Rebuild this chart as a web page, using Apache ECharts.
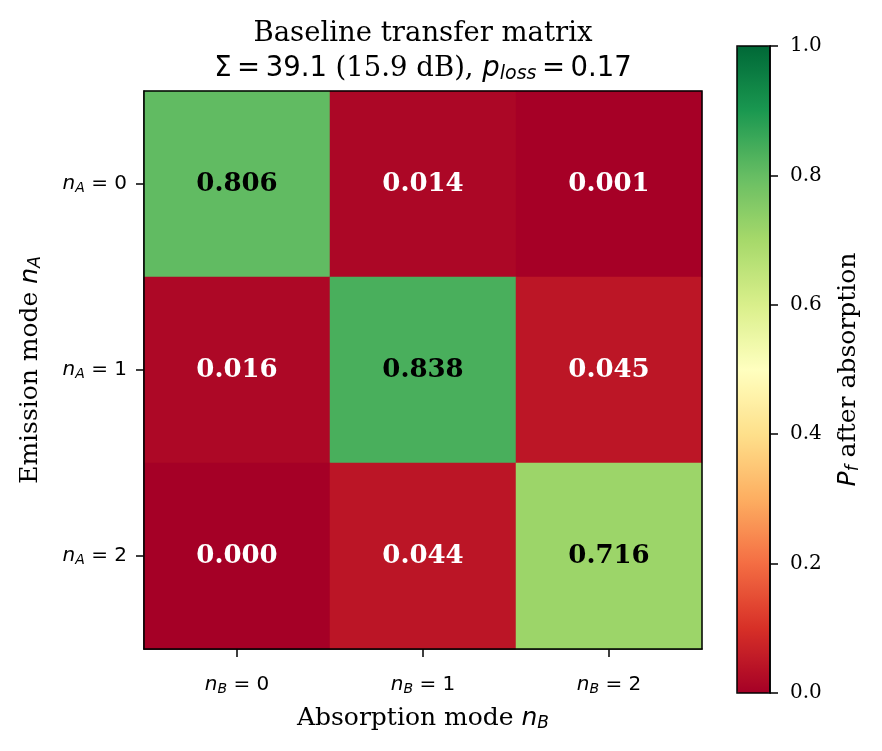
<!DOCTYPE html>
<html>
<head>
<meta charset="utf-8">
<script src="https://cdn.jsdelivr.net/npm/echarts@6/dist/echarts.min.js"></script>
<style>
  html, body { margin: 0; padding: 0; background: #fff; }
  #main { width: 882px; height: 751px; }
</style>
</head>
<body>
<div id="main"></div>
<script>
// ---- data ----
var absorptionModes = ['0', '1', '2'];   // n_B, columns
var emissionModes = ['0', '1', '2'];     // n_A, rows
var row0 = [0.806, 0.014, 0.001];
var row1 = [0.016, 0.838, 0.045];
var row2 = [0.000, 0.044, 0.716];

// RdYlGn
var rdylgn = ['#a50026', '#d73027', '#f46d43', '#fdae61', '#fee08b', '#ffffbf',
              '#d9ef8b', '#a6d96a', '#66bd63', '#1a9850', '#006837'];

var serif = 'DejaVu Serif';
var sans = 'DejaVu Sans';
var thin = '\u2009';

var rows = [row0, row1, row2];
var cells = [];
rows.forEach(function (r, i) {
    r.forEach(function (v, j) {
        cells.push({
            value: [j, i, v],
            label: { color: v > 0.5 ? '#000' : '#fff' }
        });
    });
});

var chart = echarts.init(document.getElementById('main'));

// 公共 rich 样式
var tickRich = {
    i: { fontFamily: sans, fontStyle: 'italic', fontSize: 20, color: '#000' },
    s: { fontFamily: sans, fontStyle: 'italic', fontSize: 14, color: '#000', padding: [8, 0, 0, 0] },
    t: { fontFamily: sans, fontSize: 20, color: '#000' }
};
var nameRich = {
    a: { fontFamily: serif, fontSize: 25, color: '#000' },
    i: { fontFamily: sans, fontStyle: 'italic', fontSize: 25, color: '#000' },
    s: { fontFamily: sans, fontStyle: 'italic', fontSize: 17, color: '#000', padding: [10, 0, 0, 0] }
};
function tickStyle() {
    return { show: true, alignWithLabel: true, length: 8, lineStyle: { color: '#000', width: 1.5 } };
}

var plot = { left: 144, top: 91, width: 558, height: 558 };
var cbar = { left: 737, top: 46, width: 33, height: 647 };

option = {
    backgroundColor: '#fff',
    animation: false,
    title: {
        left: 423,
        textAlign: 'center',
        top: 16,
        padding: 0,
        text: '{a|Baseline transfer matrix}\n{m|Σ' + thin + '=' + thin + '39.1 }{a|(15.9 dB), }{i|p}{s|loss}{m|' + thin + '=' + thin + '0.17}',
        textStyle: {
            rich: {
                a: { fontFamily: serif, fontWeight: 'normal', fontSize: 27.5, color: '#000', lineHeight: 35 },
                m: { fontFamily: sans, fontWeight: 'normal', fontSize: 27.5, color: '#000', lineHeight: 35 },
                i: { fontFamily: sans, fontWeight: 'normal', fontStyle: 'italic', fontSize: 27.5, color: '#000', lineHeight: 35 },
                s: { fontFamily: sans, fontWeight: 'normal', fontStyle: 'italic', fontSize: 19, color: '#000', lineHeight: 35, padding: [11, 0, 0, 0] }
            }
        }
    },
    grid: [
        { left: plot.left, top: plot.top, width: plot.width, height: plot.height },
        { left: cbar.left, top: cbar.top, width: cbar.width, height: cbar.height }
    ],
    xAxis: [{
        type: 'category',
        gridIndex: 0,
        data: absorptionModes,
        axisLine: { show: true, lineStyle: { color: '#000', width: 1.5 } },
        axisTick: tickStyle(),
        axisLabel: {
            margin: 25,
            formatter: function (v) { return '{i|n}{s|B}{t| = ' + v + '}'; },
            rich: tickRich
        },
        splitLine: { show: false },
        name: '{a|Absorption mode }{i|n}{s|B}',
        nameLocation: 'middle',
        nameGap: 56,
        nameTextStyle: { rich: nameRich }
    }, {
        type: 'value',
        gridIndex: 1,
        show: false,
        min: 0,
        max: 1
    }],
    yAxis: [{
        type: 'category',
        gridIndex: 0,
        data: emissionModes,
        inverse: true,
        axisLine: { show: true, lineStyle: { color: '#000', width: 1.5 } },
        axisTick: tickStyle(),
        axisLabel: {
            margin: 17,
            formatter: function (v) { return '{i|n}{s|A}{t| = ' + v + '}'; },
            rich: tickRich
        },
        splitLine: { show: false },
        name: '{a|Emission mode }{i|n}{s|A}',
        nameLocation: 'middle',
        nameRotate: 90,
        nameGap: 100,
        nameTextStyle: { rich: nameRich }
    }, {
        type: 'value',
        gridIndex: 1,
        position: 'right',
        min: 0,
        max: 1,
        interval: 0.2,
        z: 10,
        axisLine: { show: true, onZero: false, lineStyle: { color: '#000', width: 1.5 } },
        axisTick: { show: true, inside: false, length: 8, lineStyle: { color: '#000', width: 1.5 } },
        axisLabel: {
            margin: 20,
            fontFamily: serif,
            fontSize: 20,
            color: '#000',
            formatter: function (v) { return v.toFixed(1); }
        },
        splitLine: { show: false },
        name: '{i|P}{s|f}{a| after absorption}',
        nameLocation: 'middle',
        nameRotate: 90,
        nameGap: 65,
        nameTextStyle: { rich: nameRich }
    }],
    visualMap: {
        type: 'continuous',
        min: 0,
        max: 1,
        calculable: false,
        seriesIndex: 0,
        left: cbar.left,
        top: cbar.top,
        itemWidth: cbar.width,
        itemHeight: cbar.height,
        padding: 0,
        hoverLink: false,
        inRange: { color: rdylgn }
    },
    graphic: [
        {
            type: 'rect', z: 100,
            shape: { x: plot.left, y: plot.top, width: plot.width, height: plot.height },
            style: { fill: 'none', stroke: '#000', lineWidth: 1.5 }
        },
        {
            type: 'rect', z: 100,
            shape: { x: cbar.left, y: cbar.top, width: cbar.width, height: cbar.height },
            style: { fill: 'none', stroke: '#000', lineWidth: 1.5 }
        }
    ],
    series: [{
        type: 'heatmap',
        xAxisIndex: 0,
        yAxisIndex: 0,
        data: cells,
        itemStyle: { borderWidth: 0 },
        label: {
            show: true,
            fontFamily: serif,
            fontWeight: 'bold',
            fontSize: 26,
            formatter: function (p) { return p.value[2].toFixed(3); }
        },
        emphasis: { disabled: true }
    }, {
        type: 'scatter',
        xAxisIndex: 1,
        yAxisIndex: 1,
        data: []
    }]
};
chart.setOption(option);
</script>
</body>
</html>
